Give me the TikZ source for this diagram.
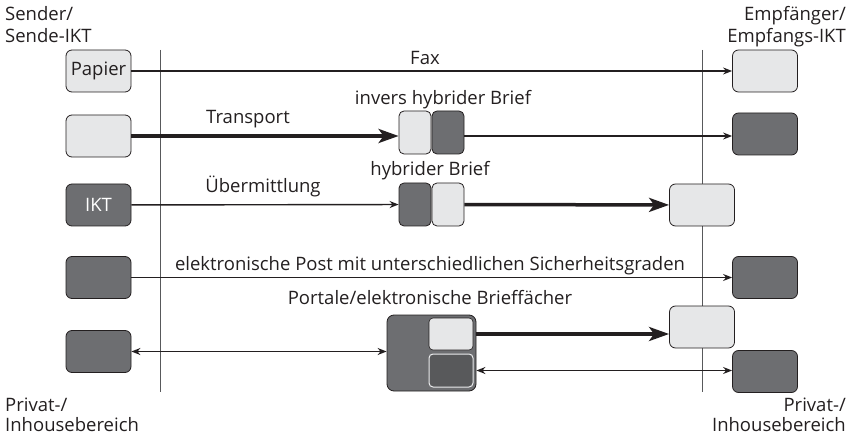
\documentclass[tikz,border=0pt]{standalone}
\usepackage{fontspec}
\setmainfont{Open Sans}
\usetikzlibrary{arrows.meta}
\definecolor{lightf}{HTML}{E6E7E8}
\definecolor{darkf}{HTML}{6D6E71}
\definecolor{inner}{HTML}{58595B}
\definecolor{edge}{HTML}{231F20}
\definecolor{vline}{HTML}{58595B}
\tikzset{
  box/.style={draw=edge, line width=0.8pt, rounded corners=6pt, minimum width=65pt, minimum height=42pt, inner sep=0pt},
  lbox/.style={box, fill=lightf},
  dbox/.style={box, fill=darkf},
  half/.style={draw=edge, line width=0.8pt, rounded corners=5pt, minimum width=32pt, minimum height=43pt, inner sep=0pt},
  thin/.style={draw=edge, line width=1.4pt, -{Stealth[length=9pt,width=7pt]}},
  thinb/.style={draw=edge, line width=1.4pt, {Stealth[length=9pt,width=7pt]}-{Stealth[length=9pt,width=7pt]}},
  thick/.style={draw=edge, line width=3.5pt, -{Stealth[length=20pt,width=14pt,inset=5pt]}},
  lab/.style={font=\fontsize{18.5pt}{22pt}\selectfont, text=edge, inner sep=0pt, anchor=base},
  bnd/.style={draw=vline, line width=0.9pt},
}
\begin{document}
\begin{tikzpicture}[x=1pt,y=-1pt]
\useasboundingbox (0,0) rectangle (850,435);
% boundaries
\coordinate (v1t) at (160,50); \coordinate (v1b) at (160,392);
\coordinate (v2t) at (702,50); \coordinate (v2b) at (702,392);
\draw[bnd] (v1t) -- (v1b);
\draw[bnd] (v2t) -- (v2b);
% corner labels
\node[lab, anchor=base west] (s1) at (5,21) {Sender/};
\node[lab, anchor=base west] (s2) at (5,43) {Sende-IKT};
\node[lab, anchor=base east] (e1) at (846,21) {Empfänger/};
\node[lab, anchor=base east] (e2) at (846,43) {Empfangs-IKT};
\node[lab, anchor=base west] (p1) at (5,411) {Privat-/};
\node[lab, anchor=base west] (p2) at (5,431) {Inhousebereich};
\node[lab, anchor=base east] (q1) at (846,411) {Privat-/};
\node[lab, anchor=base east] (q2) at (846,431) {Inhousebereich};
% left boxes
\node[lbox, font=\fontsize{18.5pt}{22pt}\selectfont, text=edge] (l1) at (98.5,71) {Papier};
\node[lbox] (l2) at (98.5,136) {};
\node[dbox, text=white, font=\fontsize{18.5pt}{22pt}\selectfont] (l3) at (98.5,205) {IKT};
\node[dbox] (l4) at (98.5,277.5) {};
\node[dbox] (l5) at (98.5,351.5) {};
% right boxes
\node[lbox] (r1) at (765,71) {};
\node[dbox] (r2) at (765,134) {};
\node[lbox] (r3) at (702,205) {};
\node[dbox] (r4) at (765,277.5) {};
\node[lbox] (r5a) at (702,327) {};
\node[dbox] (r5b) at (765,371.5) {};
% hybrid boxes
\node[half, fill=lightf] (h2a) at (415,132.5) {};
\node[half, fill=darkf] (h2b) at (448,132.5) {};
\node[half, fill=darkf] (h3a) at (415,204.5) {};
\node[half, fill=lightf] (h3b) at (448,204.5) {};
% portal
\node[draw=edge, line width=0.8pt, fill=darkf, rounded corners=7pt, minimum width=89pt, minimum height=76pt, inner sep=0pt] (portal) at (431.5,353) {};
\node[draw=edge, line width=0.6pt, fill=lightf, rounded corners=4pt, minimum width=44pt, minimum height=32pt, inner sep=0pt] (pin1) at (451,334) {};
\node[draw=lightf!80!white, line width=1pt, fill=inner, rounded corners=4pt, minimum width=44pt, minimum height=33pt, inner sep=0pt] (pin2) at (451,370.5) {};
% connectors
\draw[thin] (l1) -- (r1);
\draw[thick] (l2.east) -- (h2a.west |- l2.east);
\draw[thin] (h2b.east |- l2.east) -- (r2.west |- l2.east);
\draw[thin] (l3) -- (h3a);
\draw[thick] (h3b) -- (r3);
\draw[thin] (l4) -- (r4);
\draw[thinb] (l5.east) -- (l5.east -| portal.west);
\draw[thick] (pin1.east -| portal.east) -- (pin1.east -| r5a.west);
\draw[thinb] (pin2.east -| portal.east) -- (pin2.east -| r5b.west);
% labels
\node[lab] (tfax) at (425,65) {Fax};
\node[lab] (ttr) at (248,124) {Transport};
\node[lab] (tinv) at (443,105) {invers hybrider Brief};
\node[lab] (tueb) at (263,193) {Übermittlung};
\node[lab] (thyb) at (430,176) {hybrider Brief};
\node[lab] (tel) at (430,271) {elektronische Post mit unterschiedlichen Sicherheitsgraden};
\node[lab] (tpor) at (430,304) {Portale/elektronische Brieffächer};
\end{tikzpicture}
\end{document}
